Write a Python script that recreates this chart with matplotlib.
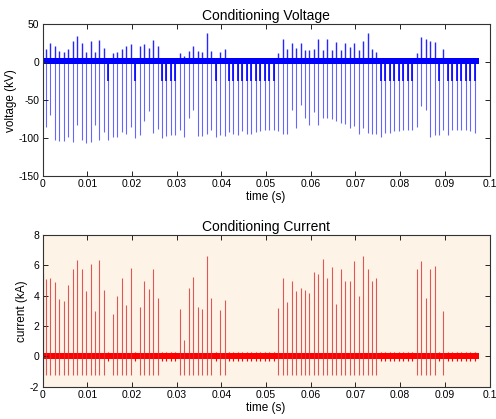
import numpy as np
import matplotlib
matplotlib.use("Agg")
import matplotlib.pyplot as plt

plt.rcParams['font.family'] = ['Liberation Sans', 'DejaVu Sans']

# ---------------- data ----------------
first_pulse_t = 0.0007      # s, time of pulse 0
pulse_period = 0.001        # s
n_pulses = 97
record_end = 0.0977         # s, end of the recorded trace

# voltage: negative peak of every pulse (kV)
v_neg = [-85, -69, -102, -104, -104, -99, -105, -83, -102, -106,
         -105, -83, -102, -92, -103, -99, -99, -92, -94, -85,
         -100, -96, -78, -64, -93, -88, -100, -97, -96, -96,
         -89, -98, -73, -63, -97, -97, -94, -90, -98, -96,
         -97, -92, -94, -96, -91, -94, -94, -92, -91, -90,
         -90, -90, -91, -95, -95, -63, -87, -56, -73, -83,
         -65, -83, -74, -74, -75, -78, -80, -81, -87, -84,
         -94, -87, -93, -94, -95, -98, -93, -93, -91, -91,
         -89, -90, -90, -86, -58, -63, -98, -96, -96, -90,
         -96, -90, -89, -90, -90, -91, -93]
# voltage: positive overshoot of every pulse (kV)
v_pos = [17, 26, 21, 15, 13, 18, 28, 35, 26, 14,
         28, 13, 29, 19, 4, 12, 13, 17, 21, 24,
         4, 22, 24, 19, 29, 21, 3, 4, 3, 4,
         12, 8, 15, 21, 15, 14, 38, 15, 4, 14,
         17, 4, 5, 4, 5, 4, 5, 4, 5, 4,
         5, 4, 12, 30, 18, 25, 19, 25, 16, 16,
         18, 30, 16, 30, 16, 27, 16, 25, 20, 26,
         16, 28, 38, 17, 14, 5, 4, 5, 4, 5,
         4, 5, 4, 12, 33, 30, 28, 27, 4, 18,
         5, 4, 5, 4, 5, 4, 5]
# current: arc peak of every pulse (kA), 0 = no arc
i_peak = [5.1, 5.15, 4.9, 3.8, 3.67, 4.7, 5.78, 6.35, 5.76, 4.3,
          6.1, 3.0, 6.33, 4.4, 0, 2.8, 4.0, 5.15, 3.4, 5.8,
          0, 3.25, 4.95, 4.45, 5.75, 3.85, 0, 0, 0, 0,
          3.1, 1.05, 4.5, 5.23, 3.23, 3.12, 6.6, 3.87, 0, 3.03,
          3.71, 0, 0, 0, 0, 0, 0, 0, 0, 0,
          0, 0, 3.2, 5.14, 3.56, 4.95, 4.3, 4.48, 4.35, 4.15,
          5.58, 5.43, 6.4, 5.14, 5.9, 3.43, 5.78, 5.0, 5.0, 6.26,
          3.96, 6.6, 5.74, 5.0, 5.19, 0, 0, 0, 0, 0,
          0, 0, 0, 5.74, 6.26, 3.87, 5.74, 5.93, 0, 3.0,
          0, 0, 0, 0, 0, 0, 0]
edge_pulse_t = 0.0          # partial pulse at start of record
edge_pulse_i = 5.5
arc_i_min = -1.25           # kA, undershoot of arc pulses
noarc_v_min = -25           # kV, short dip of pulses without arc
noarc_i_spike = 0.3         # kA, small ripple of pulses without arc
v_band = (-2.5, 5.0)        # kV, noise band of voltage trace
i_band = (-0.2, 0.2)        # kA, noise band of current trace

x_ticks = [0, 0.01, 0.02, 0.03, 0.04, 0.05, 0.06, 0.07, 0.08, 0.09, 0.1]
x_ticklabels = ['0', '0.01', '0.02', '0.03', '0.04', '0.05', '0.06',
                '0.07', '0.08', '0.09', '0.1']
v_ticks = [-150, -100, -50, 0, 50]
i_ticks = [-2, 0, 2, 4, 6, 8]

# ---------------- derived ----------------
t = first_pulse_t + pulse_period * np.arange(n_pulses)
v_neg = np.array(v_neg, float)
v_pos = np.array(v_pos, float)
i_peak = np.array(i_peak, float)
arc = i_peak > 0

W, H = 496, 419
fig = plt.figure(figsize=(W / 100, H / 100), dpi=100)
ax1 = fig.add_axes([42.7 / W, 1 - 176 / H, (489.5 - 42.7) / W, (176 - 24.3) / H])
ax2 = fig.add_axes([42.7 / W, 1 - 386.7 / H, (489.5 - 42.7) / W, (386.7 - 235) / H])

blue = '#0000ff'
red = '#ff0000'

# voltage
ax1.vlines(t, v_neg, 0, color=blue, lw=0.8, alpha=0.6)
ax1.vlines(t[~arc], noarc_v_min, 0, color=blue, lw=1.2)
ax1.vlines(t, 0, v_pos, color=blue, lw=1.0, alpha=0.85)
ax1.fill_between([0, record_end], v_band[0], v_band[1], color=blue, lw=0)

# current
ax2.set_facecolor('#fdf3e7')
ax2.vlines(t[arc], arc_i_min, i_peak[arc], color='#d83030', lw=0.8, alpha=0.8)
ax2.vlines([edge_pulse_t + 0.0001], arc_i_min, edge_pulse_i, color='#d83030', lw=0.8, alpha=0.8)
ax2.vlines(t[~arc], -noarc_i_spike, noarc_i_spike, color=red, lw=0.8)
ax2.fill_between([0, record_end], i_band[0], i_band[1], color=red, lw=0)

for ax, yt, ylim, title, ylabel in [
        (ax1, v_ticks, (-150, 50), 'Conditioning Voltage', 'voltage (kV)'),
        (ax2, i_ticks, (-2, 8), 'Conditioning Current', 'current (kA)')]:
    ax.set_xlim(0, 0.1)
    ax.set_ylim(*ylim)
    ax.set_xticks(x_ticks)
    ax.set_xticklabels(x_ticklabels)
    ax.set_yticks(yt)
    ax.set_yticklabels([str(v) for v in yt])
    ax.tick_params(direction='in', length=3.5, width=0.7, labelsize=7.5,
                   top=True, right=True, pad=2.5, colors='#222222',
                   labelcolor='black')
    for s in ax.spines.values():
        s.set_linewidth(0.8)
        s.set_color('#333333')
    ax.set_title(title, fontsize=10, pad=3)
    ax.set_xlabel('time (s)', fontsize=8.5, labelpad=1)
    ax.set_ylabel(ylabel, fontsize=8.5, labelpad=1)

fig.savefig('out.png', dpi=100, facecolor='white')
